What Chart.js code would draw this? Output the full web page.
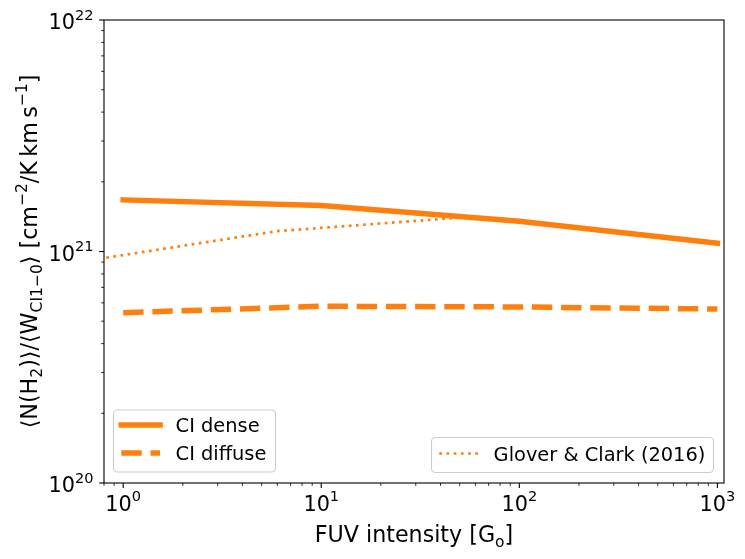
<!DOCTYPE html>
<html>
<head>
<meta charset="utf-8">
<script src="https://cdn.jsdelivr.net/npm/chart.js@4/dist/chart.umd.min.js"></script>
<style>
  body { margin: 0; background: #fff; }
  canvas { display: block; }
</style>
</head>
<body>
<canvas id="myChart" width="745" height="559"></canvas>
<script>
// Data
const denseG0 = [1, 10, 100, 1000];
const denseRatio = [1.67e21, 1.58e21, 1.35e21, 1.085e21];

const diffuseG0 = [1, 10, 100, 1000];
const diffuseRatio = [5.44e20, 5.80e20, 5.76e20, 5.64e20];

const gloverG0 = [0.5, 6, 50];
const gloverRatio = [8.8e20, 1.225e21, 1.40e21];

// Axis ticks (base 10, exponent shown as superscript)
const xTickValues = [1, 10, 100, 1000];
const xTickExps = ['0', '1', '2', '3'];
const yTickValues = [1e20, 1e21, 1e22];
const yTickExps = ['20', '21', '22'];

const orange = '#ff7f0e';
const FONT = "'DejaVu Sans', sans-serif";

function toPoints(xs, ys) {
    return xs.map((x, i) => ({ x: x, y: ys[i] }));
}

// minor ticks of a log axis between min and max
function minorTicks(min, max) {
    const out = [];
    for (let e = Math.floor(Math.log10(min)); e <= Math.ceil(Math.log10(max)); e++) {
        for (let k = 2; k <= 9; k++) {
            const v = k * Math.pow(10, e);
            if (v >= min && v <= max) out.push(v);
        }
    }
    return out;
}

// draw a run of text pieces: {t, s} with s = 0 normal, -1 sub, 1 sup
function drawPieces(ctx, pieces, x, y, size, align) {
    const small = size * 0.7;
    let total = 0;
    pieces.forEach(p => {
        ctx.font = (p.s ? small : size) + 'px ' + FONT;
        p.w = ctx.measureText(p.t).width;
        total += p.w;
    });
    let cx = align === 'center' ? x - total / 2 : align === 'right' ? x - total : x;
    ctx.textAlign = 'left';
    ctx.textBaseline = 'alphabetic';
    pieces.forEach(p => {
        ctx.font = (p.s ? small : size) + 'px ' + FONT;
        const dy = p.s === 1 ? -size * 0.45 : p.s === -1 ? size * 0.22 : 0;
        ctx.fillText(p.t, cx, y + dy);
        cx += p.w;
    });
}

function drawLegend(ctx, box, items) {
    ctx.save();
    ctx.beginPath();
    ctx.roundRect(box.x, box.y, box.w, box.h, 4);
    ctx.fillStyle = 'rgba(255,255,255,0.8)';
    ctx.fill();
    ctx.strokeStyle = '#cccccc';
    ctx.lineWidth = 1.1;
    ctx.stroke();
    items.forEach(it => {
        const ds = it.ds;
        ctx.beginPath();
        ctx.strokeStyle = ds.borderColor;
        ctx.lineWidth = ds.borderWidth;
        ctx.lineCap = ds.borderCapStyle || 'butt';
        ctx.setLineDash(ds.borderDash || []);
        ctx.moveTo(box.x + 7.8, it.y);
        ctx.lineTo(box.x + 7.8 + 38.8, it.y);
        ctx.stroke();
        ctx.setLineDash([]);
        ctx.fillStyle = '#000';
        ctx.font = '19.4px ' + FONT;
        ctx.textAlign = 'left';
        ctx.textBaseline = 'alphabetic';
        ctx.fillText(ds.label, box.x + 7.8 + 38.8 + 15.5, it.y + 7);
    });
    ctx.restore();
}

// frame, ticks, tick labels, axis titles and legends in matplotlib style
const mplAxes = {
    id: 'mplAxes',
    afterDraw(chart) {
        const ctx = chart.ctx;
        const a = chart.chartArea;
        const xs = chart.scales.x, ys = chart.scales.y;
        ctx.save();
        ctx.strokeStyle = '#000';
        ctx.fillStyle = '#000';

        // minor ticks
        ctx.lineWidth = 0.85;
        minorTicks(xs.min, xs.max).forEach(v => {
            const px = xs.getPixelForValue(v);
            ctx.beginPath(); ctx.moveTo(px, a.bottom); ctx.lineTo(px, a.bottom + 2.8); ctx.stroke();
        });
        minorTicks(ys.min, ys.max).forEach(v => {
            const py = ys.getPixelForValue(v);
            ctx.beginPath(); ctx.moveTo(a.left, py); ctx.lineTo(a.left - 2.8, py); ctx.stroke();
        });

        // major ticks + labels
        ctx.lineWidth = 1.1;
        xTickValues.forEach((v, i) => {
            const px = xs.getPixelForValue(v);
            ctx.beginPath(); ctx.moveTo(px, a.bottom); ctx.lineTo(px, a.bottom + 4.9); ctx.stroke();
            drawPieces(ctx, [{ t: '10', s: 0 }, { t: xTickExps[i], s: 1 }], px, a.bottom + 27.5, 20.8, 'center');
        });
        yTickValues.forEach((v, i) => {
            const py = ys.getPixelForValue(v);
            ctx.beginPath(); ctx.moveTo(a.left, py); ctx.lineTo(a.left - 4.9, py); ctx.stroke();
            drawPieces(ctx, [{ t: '10', s: 0 }, { t: yTickExps[i], s: 1 }], a.left - 10.5, py + 9, 20.8, 'right');
        });

        // frame
        ctx.lineWidth = 1.1;
        ctx.strokeRect(a.left, a.top, a.right - a.left, a.bottom - a.top);

        // x title
        drawPieces(ctx, [{ t: 'FUV intensity [G', s: 0 }, { t: 'o', s: -1 }, { t: ']', s: 0 }],
            (a.left + a.right) / 2, 542, 22.2, 'center');

        // y title
        ctx.save();
        ctx.translate(37, (a.top + a.bottom) / 2);
        ctx.rotate(-Math.PI / 2);
        drawPieces(ctx, [
            { t: '\u27e8N(H', s: 0 }, { t: '2', s: -1 }, { t: ')\u27e9/\u27e8W', s: 0 },
            { t: 'CI1\u22120', s: -1 }, { t: '\u27e9 [cm', s: 0 }, { t: '\u22122', s: 1 },
            { t: '/K\u2009km\u2009s', s: 0 }, { t: '\u22121', s: 1 }, { t: ']', s: 0 }
        ], 0, 0, 22.2, 'center');
        ctx.restore();
        ctx.restore();

        const d = chart.data.datasets;
        drawLegend(ctx, { x: 113.5, y: 410, w: 162, h: 62 }, [{ ds: d[0], y: 425 }, { ds: d[1], y: 453 }]);
        drawLegend(ctx, { x: 431.5, y: 437.5, w: 282, h: 35 }, [{ ds: d[2], y: 453.5 }]);
    }
};

const ctx = document.getElementById('myChart').getContext('2d');
const myChart = new Chart(ctx, {
    type: 'line',
    data: {
        datasets: [
            {
                label: 'CI dense',
                data: toPoints(denseG0, denseRatio),
                borderColor: orange,
                borderWidth: 5.5,
                borderCapStyle: 'square',
                borderJoinStyle: 'round',
                pointRadius: 0,
                clip: 0,
                order: 3
            },
            {
                label: 'CI diffuse',
                data: toPoints(diffuseG0, diffuseRatio),
                borderColor: orange,
                borderWidth: 5.5,
                borderDash: [20.4, 8.8],
                borderCapStyle: 'butt',
                borderJoinStyle: 'round',
                pointRadius: 0,
                clip: 0,
                order: 2
            },
            {
                label: 'Glover & Clark (2016)',
                data: toPoints(gloverG0, gloverRatio),
                borderColor: orange,
                borderWidth: 2.7,
                borderDash: [2.7, 4.5],
                borderCapStyle: 'butt',
                borderJoinStyle: 'round',
                pointRadius: 0,
                clip: 0,
                order: 1
            }
        ]
    },
    options: {
        responsive: false,
        animation: false,
        devicePixelRatio: 1,
        layout: { padding: { left: 104, right: 21, top: 20, bottom: 76 } },
        scales: {
            x: { type: 'logarithmic', min: 0.8, max: 1080, display: false },
            y: { type: 'logarithmic', min: 1e20, max: 1e22, display: false }
        },
        plugins: {
            legend: { display: false },
            tooltip: { enabled: false }
        }
    },
    plugins: [mplAxes]
});
</script>
</body>
</html>
